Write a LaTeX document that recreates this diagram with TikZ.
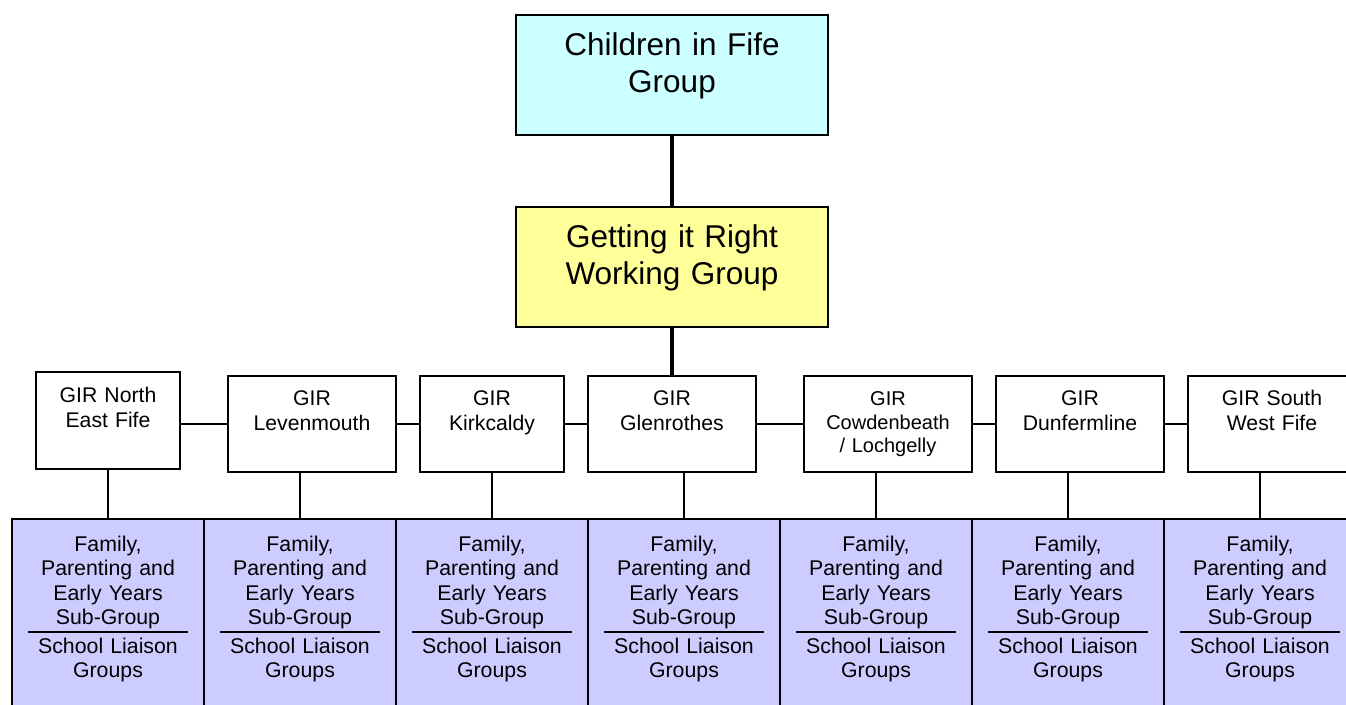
\documentclass[tikz,border=0pt]{standalone}
\usepackage{fontspec}
\setmainfont{Liberation Sans}
\definecolor{cifcyan}{HTML}{CCFFFF}
\definecolor{giryellow}{HTML}{FFFF99}
\definecolor{fplilac}{HTML}{CCCCFF}

\begin{document}
\begin{tikzpicture}[x=1pt,y=-1pt]
	\tikzstyle{bigbox}=[draw=black,line width=1.5pt,anchor=north,inner sep=0pt,align=center,text width=312pt,font=\fontsize{31.5}{36.5}\selectfont,text height=41pt,text depth=79pt]
	\tikzstyle{area}=[draw=black,line width=1.5pt,fill=white,anchor=north,inner sep=0pt,align=center,font=\fontsize{21.2}{24.5}\selectfont,text height=30pt,text depth=66pt]
	\tikzstyle{subgroup}=[draw=black,line width=1.5pt,fill=fplilac,anchor=north,inner sep=0pt,align=center,text width=192pt,font=\fontsize{21.3}{24.5}\selectfont,text height=32.5pt,text depth=170pt]
	\tikzstyle{link}=[line width=1.5pt]
	\tikzstyle{trunk}=[line width=3.5pt]
	\useasboundingbox (0,0) rectangle (1346,704);
	\clip (0,0) rectangle (1346,704);
	\node[bigbox,fill=cifcyan] (cif) at (672,14) {Children in Fife\\Group};
	\node[bigbox,fill=giryellow] (gir) at (672,206) {Getting it Right\\Working Group};
	\node[area,text width=144pt,text height=31pt] (g1) at (108,371) {GIR North\\East Fife};
	\node[area,text width=168pt] (g2) at (312,375) {GIR\\Levenmouth};
	\node[area,text width=144pt] (g3) at (492,375) {GIR\\Kirkcaldy};
	\node[area,text width=168pt] (g4) at (672,375) {GIR\\Glenrothes};
	\node[area,text width=168pt,font=\fontsize{20}{23.5}\selectfont] (g5) at (888,375) {GIR\\Cowdenbeath\\/ Lochgelly};
	\node[area,text width=168pt] (g6) at (1080,375) {GIR\\Dunfermline};
	\node[area,text width=168pt] (g7) at (1272,375) {GIR South\\West Fife};
	\node[subgroup] (f1) at (108,518) {Family,\\Parenting and\\Early Years\\Sub-Group\\[4pt]School Liaison\\Groups};
	\node[subgroup] (f2) at (300,518) {Family,\\Parenting and\\Early Years\\Sub-Group\\[4pt]School Liaison\\Groups};
	\node[subgroup] (f3) at (492,518) {Family,\\Parenting and\\Early Years\\Sub-Group\\[4pt]School Liaison\\Groups};
	\node[subgroup] (f4) at (684,518) {Family,\\Parenting and\\Early Years\\Sub-Group\\[4pt]School Liaison\\Groups};
	\node[subgroup] (f5) at (876,518) {Family,\\Parenting and\\Early Years\\Sub-Group\\[4pt]School Liaison\\Groups};
	\node[subgroup] (f6) at (1068,518) {Family,\\Parenting and\\Early Years\\Sub-Group\\[4pt]School Liaison\\Groups};
	\node[subgroup] (f7) at (1260,518) {Family,\\Parenting and\\Early Years\\Sub-Group\\[4pt]School Liaison\\Groups};
	\draw[trunk] (cif) -- (gir);
	\draw[trunk] (gir) -- (g4);
	\draw[link] (g1.east |- g2.center) -- (g2.west);
	\draw[link] (g2) -- (g3);
	\draw[link] (g3) -- (g4);
	\draw[link] (g4) -- (g5);
	\draw[link] (g5) -- (g6);
	\draw[link] (g6) -- (g7);
	\draw[link] (f1.north) -- (f1.north |- g1.south);
	\draw[link] (f2.north) -- (f2.north |- g2.south);
	\draw[link] (f3.north) -- (f3.north |- g3.south);
	\draw[link] (f4.north) -- (f4.north |- g4.south);
	\draw[link] (f5.north) -- (f5.north |- g5.south);
	\draw[link] (f6.north) -- (f6.north |- g6.south);
	\draw[link] (f7.north) -- (f7.north |- g7.south);
	\draw[link] ([xshift=-80pt,yshift=-114pt]f1.north) -- ([xshift=80pt,yshift=-114pt]f1.north);
	\draw[link] ([xshift=-80pt,yshift=-114pt]f2.north) -- ([xshift=80pt,yshift=-114pt]f2.north);
	\draw[link] ([xshift=-80pt,yshift=-114pt]f3.north) -- ([xshift=80pt,yshift=-114pt]f3.north);
	\draw[link] ([xshift=-80pt,yshift=-114pt]f4.north) -- ([xshift=80pt,yshift=-114pt]f4.north);
	\draw[link] ([xshift=-80pt,yshift=-114pt]f5.north) -- ([xshift=80pt,yshift=-114pt]f5.north);
	\draw[link] ([xshift=-80pt,yshift=-114pt]f6.north) -- ([xshift=80pt,yshift=-114pt]f6.north);
	\draw[link] ([xshift=-80pt,yshift=-114pt]f7.north) -- ([xshift=80pt,yshift=-114pt]f7.north);
\end{tikzpicture}
\end{document}
